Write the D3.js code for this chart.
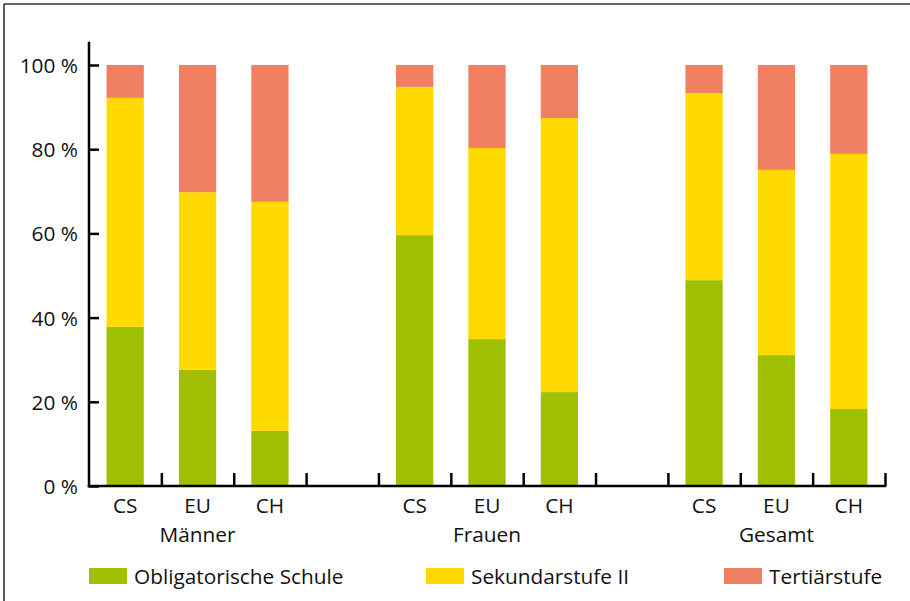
<!DOCTYPE html>
<html>
<head>
<meta charset="utf-8">
<script src="https://cdn.jsdelivr.net/npm/d3@7"></script>
<style>
  html, body { margin: 0; padding: 0; background: #fff; }
  svg { display: block; }
  text { font-family: "Open Sans", "Noto Sans", sans-serif; fill: #111; }
</style>
</head>
<body>
<svg id="chart" width="910" height="601"></svg>
<script>
// ---- Data ----
const groups = ["Männer", "Frauen", "Gesamt"];
const regions = ["CS", "EU", "CH"];
const seriesNames = ["Obligatorische Schule", "Sekundarstufe II", "Tertiärstufe"];
const seriesColors = ["#a1c005", "#ffda00", "#f08061"];
// values in %, order per group: CS, EU, CH
const obligatorisch = [37.8, 27.6, 13.1, 59.6, 34.9, 22.3, 48.9, 31.1, 18.3];
const sekundar      = [54.4, 42.2, 54.4, 35.2, 45.4, 65.1, 44.4, 44.0, 60.6];
const tertiaer      = [ 7.8, 30.2, 32.5,  5.2, 19.7, 12.6,  6.7, 24.9, 21.1];
const yTicks = [0, 20, 40, 60, 80, 100];

// ---- Layout ----
const FS = 20.8;
const svg = d3.select("#chart");
const x0 = 89, x1 = 885, yBase = 486, yTop = 65;

// slots: 3 bars per group, with one empty slot between groups
const slots = [];
const rows = [];
groups.forEach((g, gi) => {
  regions.forEach((r, ri) => {
    const key = g + "|" + r;
    slots.push(key);
    const i = gi * 3 + ri;
    rows.push({ key, group: g, region: r, values: [obligatorisch[i], sekundar[i], tertiaer[i]] });
  });
  if (gi < groups.length - 1) slots.push("gap" + gi);
});

const x = d3.scaleBand().domain(slots).range([x0, x1]).padding(0);
const slotIdx = d3.scaleLinear().domain([0, slots.length]).range([x0, x1]);
const y = d3.scaleLinear().domain([0, 100]).range([yBase, yTop]);

// frame (top and left)
svg.append("line").attr("x1", 4).attr("x2", 910).attr("y1", 4).attr("y2", 4)
  .attr("stroke", "#333").attr("stroke-width", 1.6);
svg.append("line").attr("x1", 4).attr("x2", 4).attr("y1", 4).attr("y2", 601)
  .attr("stroke", "#333").attr("stroke-width", 1.6);

// bars
const barW = x.bandwidth() * 0.515;
const stackData = d3.stack().keys([0, 1, 2]).value((d, k) => d.values[k])(rows);
svg.append("g").selectAll("g").data(stackData).join("g")
  .attr("fill", (d, i) => seriesColors[i])
  .selectAll("rect").data(d => d).join("rect")
  .attr("x", d => x(d.data.key) + (x.bandwidth() - barW) / 2)
  .attr("width", barW)
  .attr("y", d => y(Math.min(d[1], 100)))
  .attr("height", d => y(d[0]) - y(Math.min(d[1], 100)));

// y axis
const yAxis = d3.axisLeft(y).tickValues(yTicks).tickFormat(d => d + " %")
  .tickSizeInner(-10).tickSizeOuter(0).tickPadding(11);
const gy = svg.append("g").attr("transform", `translate(${x0},0)`).call(yAxis);
gy.select(".domain").remove();
gy.selectAll(".tick line").attr("stroke", "#000").attr("stroke-width", 2.5);
gy.selectAll(".tick text").attr("font-size", FS).attr("font-family", "Open Sans").attr("fill", "#111").attr("dy", "0.36em");
svg.append("line").attr("x1", x0).attr("x2", x0).attr("y1", y(105.5)).attr("y2", yBase + 1.25)
  .attr("stroke", "#000").attr("stroke-width", 2.5);

// x axis (ticks at slot boundaries)
const xAxis = d3.axisBottom(slotIdx).tickValues(d3.range(1, slots.length + 1))
  .tickSizeInner(-13).tickSizeOuter(0).tickFormat("");
const gx = svg.append("g").attr("transform", `translate(0,${yBase})`).call(xAxis);
gx.select(".domain").remove();
gx.selectAll(".tick line").attr("stroke", "#000").attr("stroke-width", 2.5);
svg.append("line").attr("x1", x0 - 1.25).attr("x2", x1 + 1.25).attr("y1", yBase).attr("y2", yBase)
  .attr("stroke", "#000").attr("stroke-width", 2.5);

// category labels
svg.append("g").selectAll("text").data(rows).join("text")
  .attr("x", d => x(d.key) + x.bandwidth() / 2)
  .attr("y", 513)
  .attr("text-anchor", "middle")
  .attr("font-size", FS)
  .text(d => d.region);

// group labels
svg.append("g").selectAll("text").data(groups).join("text")
  .attr("x", g => x(g + "|EU") + x.bandwidth() / 2)
  .attr("y", 542)
  .attr("text-anchor", "middle")
  .attr("font-size", FS)
  .text(g => g);

// legend
const legendX = [89, 426, 724];
const lg = svg.append("g").selectAll("g").data(seriesNames).join("g")
  .attr("transform", (d, i) => `translate(${legendX[i]},568)`);
lg.append("rect").attr("width", 38).attr("height", 16).attr("fill", (d, i) => seriesColors[i]);
lg.append("text").attr("x", 45).attr("y", 15.5).attr("font-size", FS).text(d => d);
</script>
</body>
</html>
